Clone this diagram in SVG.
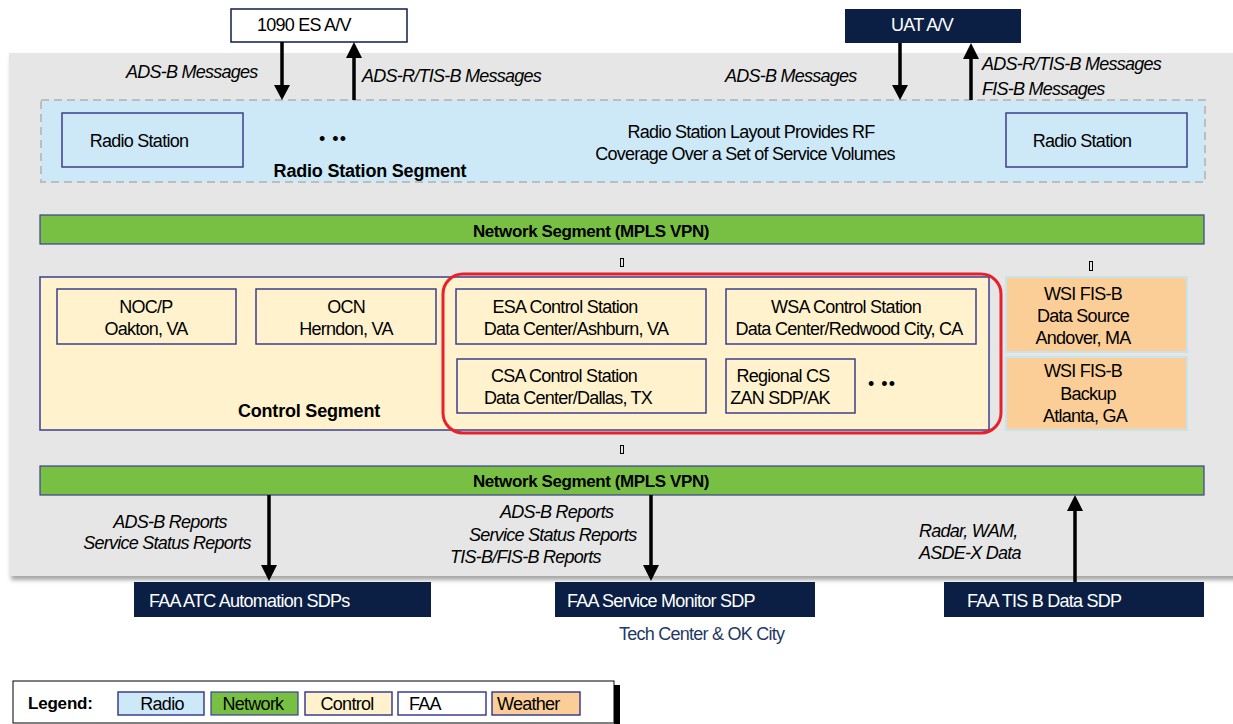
<svg xmlns="http://www.w3.org/2000/svg" width="1233" height="724" viewBox="0 0 1233 724">
<defs>
<style>
.t{font-family:"Liberation Sans",Arial,sans-serif;font-size:18px;letter-spacing:-0.75px;fill:#000}
.i{font-style:italic}
.b{font-weight:bold;letter-spacing:-0.2px}
.m{text-anchor:middle}
.w{fill:#fff}
.radio{fill:#cde9f8;stroke:#3b3f8f;stroke-width:1.5}
.ctl{fill:#fff2cc;stroke:#3b3f8f;stroke-width:1.5}
.net{fill:#78c043;stroke:#3b3f8f;stroke-width:1.2}
.wx{fill:#fcce97;stroke:#c8e3ea;stroke-width:2}
.faa{fill:#0b1f45}
.ln{stroke:#000;stroke-width:3.5;fill:none}
.hd{fill:#000}
.gl{fill:none;stroke:#000;stroke-width:1}
</style>
<filter id="sh" x="-5%" y="-5%" width="110%" height="115%">
<feDropShadow dx="2" dy="4" stdDeviation="2" flood-color="#000" flood-opacity="0.35"/>
</filter>
</defs>
<rect width="1233" height="724" fill="#fff"/>
<rect id="bg" x="9" y="53" width="1230" height="523" fill="#e6e6e6" filter="url(#sh)"/>

<g id="radio-segment">
<rect x="41" y="100" width="1164" height="82" fill="#cde9f8" stroke="#bdbdbd" stroke-width="2" stroke-dasharray="8,5"/>
<text class="t b m" x="370" y="177">Radio Station Segment</text>
<text class="t m" x="333" y="145" style="letter-spacing:1px">• ••</text>
<text class="t m" x="751" y="138">Radio Station Layout Provides RF</text>
<text class="t m" x="745" y="160">Coverage Over a Set of Service Volumes</text>
</g>
<g id="radio-station-left">
<rect class="radio" x="62" y="113" width="181" height="54"/>
<text class="t m" x="139" y="147">Radio Station</text>
</g>
<g id="radio-station-right">
<rect class="radio" x="1006" y="113" width="181" height="54"/>
<text class="t m" x="1082" y="147">Radio Station</text>
</g>

<g id="av-1090">
<rect x="231" y="9" width="176" height="33" fill="#fff" stroke="#0b1f45" stroke-width="1.5"/>
<text class="t" x="257" y="31">1090 ES A/V</text>
</g>
<g id="av-uat">
<rect class="faa" x="845" y="9" width="176" height="34"/>
<text class="t w" x="891" y="31">UAT A/V</text>
</g>

<g id="network-top">
<rect class="net" x="40" y="215" width="1164" height="29"/>
<text class="t b m" x="591" y="237" style="font-size:17px;letter-spacing:-0.4px">Network Segment (MPLS VPN)</text>
</g>

<g id="control-segment">
<rect class="ctl" x="40" y="277" width="949" height="153"/>
<text class="t b m" x="309" y="417">Control Segment</text>
<text class="t m" x="882" y="390" style="letter-spacing:1px">• ••</text>
</g>
<g id="noc">
<rect class="ctl" x="57" y="289" width="179" height="55"/>
<text class="t m" x="146" y="313">NOC/P</text>
<text class="t m" x="146" y="335">Oakton, VA</text>
</g>
<g id="ocn">
<rect class="ctl" x="256" y="289" width="180" height="55"/>
<text class="t m" x="346" y="313">OCN</text>
<text class="t m" x="346" y="335">Herndon, VA</text>
</g>
<g id="esa">
<rect class="ctl" x="456" y="289" width="250" height="55"/>
<text class="t m" x="565" y="313">ESA Control Station</text>
<text class="t m" x="576" y="335">Data Center/Ashburn, VA</text>
</g>
<g id="wsa">
<rect class="ctl" x="726" y="289" width="250" height="55"/>
<text class="t m" x="846" y="313">WSA Control Station</text>
<text class="t m" x="849" y="335">Data Center/Redwood City, CA</text>
</g>
<g id="csa">
<rect class="ctl" x="457" y="359" width="249" height="54"/>
<text class="t m" x="564" y="382">CSA Control Station</text>
<text class="t m" x="568" y="404">Data Center/Dallas, TX</text>
</g>
<g id="regional">
<rect class="ctl" x="726" y="359" width="129" height="54"/>
<text class="t m" x="783" y="382">Regional CS</text>
<text class="t m" x="780" y="404">ZAN SDP/AK</text>
</g>
<g id="highlight">
<rect x="443" y="274" width="558" height="159" rx="20" ry="20" fill="none" stroke="#e8202a" stroke-width="3"/>
</g>

<g id="wsi-source">
<rect class="wx" x="1006" y="277" width="181" height="75"/>
<text class="t m" x="1083" y="300">WSI FIS-B</text>
<text class="t m" x="1083" y="322">Data Source</text>
<text class="t m" x="1083" y="344">Andover, MA</text>
</g>
<g id="wsi-backup">
<rect class="wx" x="1006" y="357" width="181" height="73"/>
<text class="t m" x="1083" y="377">WSI FIS-B</text>
<text class="t m" x="1088" y="400">Backup</text>
<text class="t m" x="1085" y="422">Atlanta, GA</text>
</g>

<g id="network-bottom">
<rect class="net" x="40" y="466" width="1164" height="29"/>
<text class="t b m" x="591" y="487" style="font-size:17px;letter-spacing:-0.4px">Network Segment (MPLS VPN)</text>
</g>

<g id="faa-atc">
<rect class="faa" x="134" y="582" width="297" height="35"/>
<text class="t w" x="149" y="607">FAA ATC Automation SDPs</text>
</g>
<g id="faa-monitor">
<rect class="faa" x="555" y="582" width="260" height="35"/>
<text class="t w" x="567" y="607">FAA Service Monitor SDP</text>
<text class="t" x="619" y="640" style="fill:#1f3864">Tech Center &amp; OK City</text>
</g>
<g id="faa-tisb">
<rect class="faa" x="944" y="582" width="260" height="35"/>
<text class="t w" x="967" y="607">FAA TIS B Data SDP</text>
</g>

<g id="connectors">
<line class="ln" x1="282" y1="42" x2="282" y2="88"/>
<polygon class="hd" points="274,85 290,85 282,100"/>
<line class="ln" x1="354" y1="100" x2="354" y2="55"/>
<polygon class="hd" points="346,58 362,58 354,42"/>
<line class="ln" x1="900" y1="43" x2="900" y2="88"/>
<polygon class="hd" points="892,85 908,85 900,100"/>
<line class="ln" x1="971" y1="100" x2="971" y2="56"/>
<polygon class="hd" points="963,59 979,59 971,43"/>
<line class="ln" x1="269" y1="495" x2="269" y2="568"/>
<polygon class="hd" points="261,565 277,565 269,581"/>
<line class="ln" x1="651" y1="495" x2="651" y2="568"/>
<polygon class="hd" points="643,565 659,565 651,581"/>
<line class="ln" x1="1075" y1="582" x2="1075" y2="508"/>
<polygon class="hd" points="1067,511 1083,511 1075,495"/>
<rect class="gl" x="620.5" y="258.5" width="3" height="8"/>
<rect class="gl" x="1089.5" y="261.5" width="3" height="9"/>
<rect class="gl" x="620.5" y="445.5" width="3" height="8"/>
</g>

<g id="labels">
<text class="t i" x="126" y="78">ADS-B Messages</text>
<text class="t i" x="362" y="82">ADS-R/TIS-B Messages</text>
<text class="t i" x="725" y="82">ADS-B Messages</text>
<text class="t i" x="982" y="70">ADS-R/TIS-B Messages</text>
<text class="t i" x="982" y="95">FIS-B Messages</text>
<text class="t i m" x="170" y="528">ADS-B Reports</text>
<text class="t i m" x="167" y="549">Service Status Reports</text>
<text class="t i" x="500" y="518">ADS-B Reports</text>
<text class="t i" x="469" y="541">Service Status Reports</text>
<text class="t i" x="450" y="563">TIS-B/FIS-B Reports</text>
<text class="t i" x="919" y="537">Radar, WAM,</text>
<text class="t i" x="919" y="559">ASDE-X Data</text>
</g>

<g id="legend">
<rect x="614" y="685" width="6" height="39" fill="#000"/>
<rect x="13" y="681" width="601" height="42" fill="#fff" stroke="#000" stroke-width="1"/>
<text class="t b" x="28" y="709" style="font-size:17px">Legend:</text>
<rect class="radio" x="118" y="692" width="86" height="23"/>
<text class="t m" x="162" y="710">Radio</text>
<rect class="net" x="211" y="692" width="87" height="23"/>
<text class="t m" x="253" y="710">Network</text>
<rect class="ctl" x="305" y="692" width="87" height="23"/>
<text class="t m" x="347" y="710">Control</text>
<rect x="398" y="692" width="88" height="23" fill="#fff" stroke="#3b3f8f" stroke-width="1.5"/>
<text class="t" x="409" y="710">FAA</text>
<rect x="492" y="692" width="88" height="23" fill="#fcce97" stroke="#3b3f8f" stroke-width="1.5"/>
<text class="t" x="497" y="710">Weather</text>
</g>
</svg>
